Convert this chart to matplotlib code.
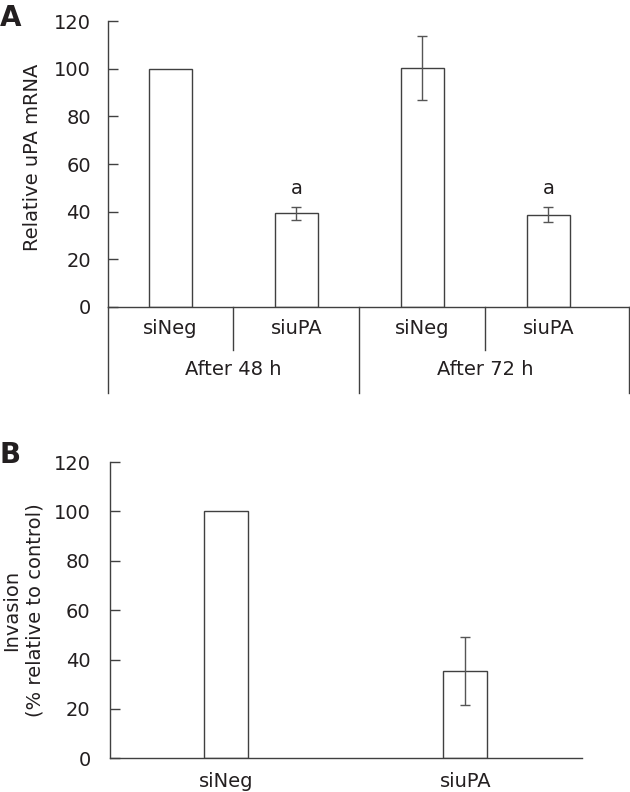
import matplotlib
matplotlib.use("Agg")
import matplotlib.pyplot as plt

# panel A data
a_cats = ["siNeg", "siuPA", "siNeg", "siuPA"]
a_groups = ["After 48 h", "After 72 h"]
a_vals = [100, 39.3, 100.2, 38.8]
a_err = [0, 2.8, 13.3, 3.3]
a_marks = ["", "a", "", "a"]

# panel B data
b_cats = ["siNeg", "siuPA"]
b_vals = [100, 35.5]
b_err = [0, 13.8]

plt.rcParams["font.family"] = "DejaVu Sans"
txt = "#231f20"
edge = "#404040"
fs = 14

fig = plt.figure(figsize=(6.3, 7.92), dpi=100)

# ---- A ----
ax = fig.add_axes([107.5 / 630, 485 / 792, (629 - 107.5) / 630, 286 / 792])
x = list(range(len(a_cats)))
ax.bar(x, a_vals, width=0.34, color="white", edgecolor=edge, linewidth=1.0, zorder=2)
for i in x:
    if a_err[i] > 0:
        ax.errorbar(i, a_vals[i], yerr=a_err[i], fmt="none", ecolor="#555555",
                    elinewidth=1.0, capsize=3.3, capthick=1.0, zorder=3)
    if a_marks[i]:
        ax.text(i, a_vals[i] + a_err[i] + 3.5, a_marks[i], ha="center", va="bottom",
                fontsize=fs, color=txt)
ax.set_xlim(-0.5, 3.64)
ax.set_ylim(0, 120)
ax.set_yticks(range(0, 121, 20))
ax.set_xticks([])
for s in ["top", "right"]:
    ax.spines[s].set_visible(False)
for s in ["left", "bottom"]:
    ax.spines[s].set_color(edge)
    ax.spines[s].set_linewidth(1.0)
ax.tick_params(axis="y", direction="in", length=7, width=1.0, color=edge,
               labelsize=fs, labelcolor=txt, pad=12)

# category table below the axis
tr = ax.get_xaxis_transform()
ax.plot([-0.5, -0.5], [0, -0.30], transform=tr, color=edge, lw=1.0, clip_on=False)
ax.plot([3.64, 3.64], [0, -0.30], transform=tr, color=edge, lw=1.0, clip_on=False)
ax.plot([1.5, 1.5], [0, -0.30], transform=tr, color=edge, lw=1.0, clip_on=False)
for b in [0.5, 2.5]:
    ax.plot([b, b], [0, -0.15], transform=tr, color=edge, lw=1.0, clip_on=False)
for i, c in enumerate(a_cats):
    ax.text(i, -0.074, c, transform=tr, ha="center", va="center", fontsize=fs, color=txt)
for g, name in enumerate(a_groups):
    ax.text(0.5 + 2 * g, -0.22, name, transform=tr, ha="center", va="center",
            fontsize=fs, color=txt)
fig.text(33 / 630, 1 - 157 / 792, "Relative uPA mRNA", rotation=90, ha="center",
         va="center", fontsize=fs, color=txt)
fig.text(0.0, 1 - 18 / 792, "A", fontsize=20, fontweight="bold", color=txt,
         ha="left", va="center")

# ---- B ----
bx = fig.add_axes([110 / 630, 33.7 / 792, (582 - 110) / 630, 296.3 / 792])
xb = list(range(len(b_cats)))
bx.bar(xb, b_vals, width=0.184, color="white", edgecolor=edge, linewidth=1.0, zorder=2)
for i in xb:
    if b_err[i] > 0:
        bx.errorbar(i, b_vals[i], yerr=b_err[i], fmt="none", ecolor="#555555",
                    elinewidth=1.0, capsize=3.3, capthick=1.0, zorder=3)
bx.set_xlim(-0.485, 1.488)
bx.set_ylim(0, 120)
bx.set_yticks(range(0, 121, 20))
bx.set_xticks(xb)
bx.set_xticklabels(b_cats, fontsize=fs, color=txt)
for s in ["top", "right"]:
    bx.spines[s].set_visible(False)
for s in ["left", "bottom"]:
    bx.spines[s].set_color(edge)
    bx.spines[s].set_linewidth(1.0)
bx.tick_params(axis="y", direction="in", length=7, width=1.0, color=edge,
               labelsize=fs, labelcolor=txt, pad=14)
bx.tick_params(axis="x", length=0, pad=10)
fig.text(23 / 630, 1 - 610 / 792, "Invasion\n(% relative to control)", rotation=90,
         ha="center", va="center", fontsize=fs, color=txt, linespacing=1.3)
fig.text(0.0, 1 - 455 / 792, "B", fontsize=20, fontweight="bold", color=txt,
         ha="left", va="center")

fig.savefig("out.png", dpi=100)
